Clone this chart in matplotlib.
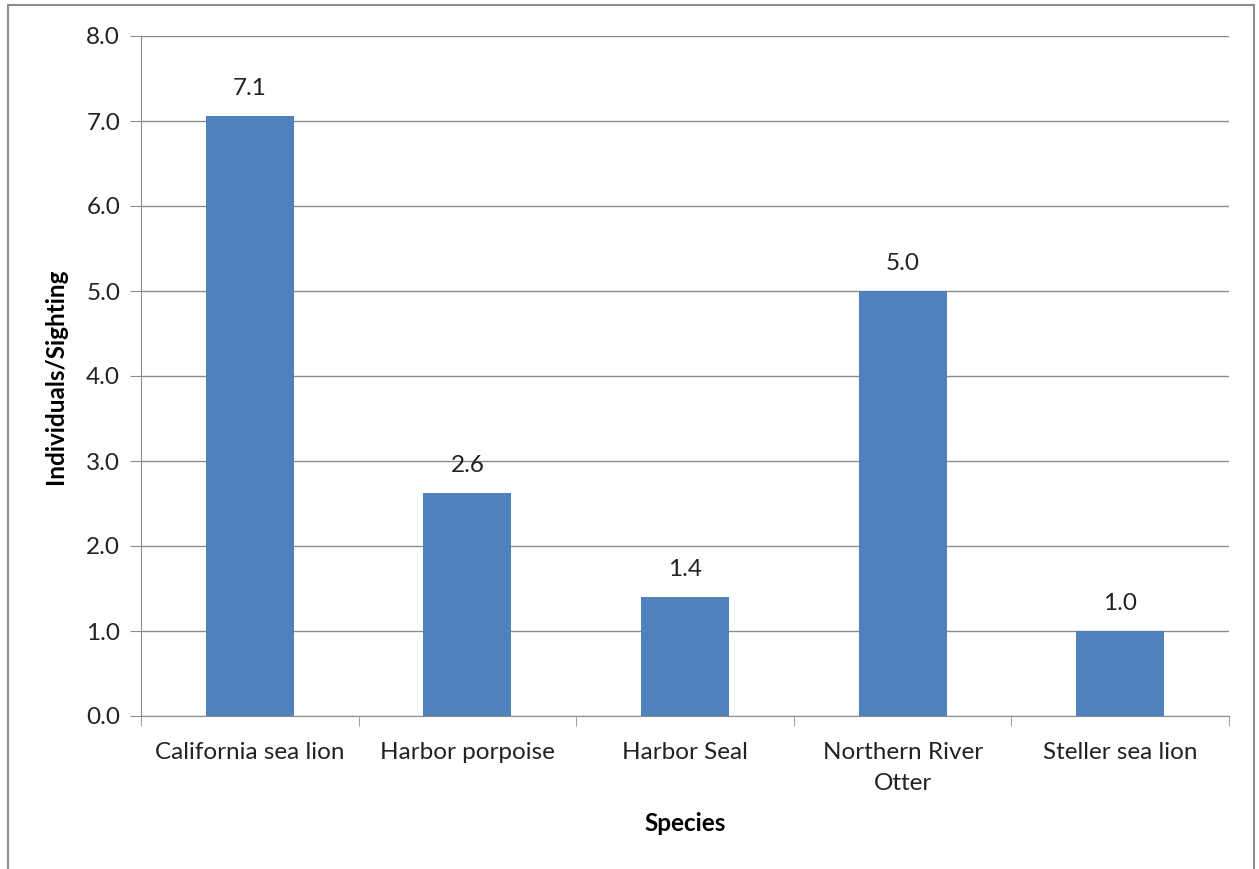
import matplotlib.pyplot as plt
from matplotlib.patches import Rectangle

species = ["California sea lion", "Harbor porpoise", "Harbor Seal",
           "Northern River\nOtter", "Steller sea lion"]
ind_per_sighting = [7.06, 2.62, 1.4, 5.0, 1.0]
yticks = [0.0, 1.0, 2.0, 3.0, 4.0, 5.0, 6.0, 7.0, 8.0]

plt.rcParams['font.family'] = ['Lato', 'DejaVu Sans']
FS = 17.5

W, H = 1259, 869
fig = plt.figure(figsize=(W / 100, H / 100), dpi=100)
ax = fig.add_axes([141 / W, 1 - 716 / H, (1229 - 141) / W, (716 - 36) / H])

# outer chart frame
fig.patches.append(Rectangle((8 / W, -0.05), (1254 - 8) / W, 1.05 - 5 / H,
                             transform=fig.transFigure, fill=False,
                             edgecolor='#8c8c8c', linewidth=1.5))

x = range(len(species))
ax.bar(x, ind_per_sighting, width=0.405, color='#4F81BD', zorder=3)
for xi, v in zip(x, ind_per_sighting):
    ax.text(xi, v + 0.2, f"{v:.1f}", ha='center', va='bottom', fontsize=FS, color='#222222')

ax.set_xlim(-0.5, len(species) - 0.5)
ax.set_ylim(0, 8)
ax.set_yticks(yticks)
ax.set_yticklabels([f"{t:.1f}" for t in yticks], fontsize=FS, color='#222222')
ax.yaxis.grid(True, color='#8c8c8c', linewidth=1, zorder=0)

ax.set_xticks(list(x))
ax.set_xticklabels(species, fontsize=FS, color='#222222', linespacing=1.55)
ax.set_xticks([i - 0.5 for i in range(len(species) + 1)], minor=True)
ax.tick_params(axis='x', which='major', length=0, pad=19)
ax.tick_params(axis='x', which='minor', length=7, color='#8c8c8c')
ax.tick_params(axis='y', length=8, color='#8c8c8c', pad=7)

for side in ['top', 'right']:
    ax.spines[side].set_visible(False)
for side in ['left', 'bottom']:
    ax.spines[side].set_color('#8c8c8c')

ax.set_xlabel("Species", fontsize=FS, fontweight='bold', labelpad=13)
ax.set_ylabel("Individuals/Sighting", fontsize=FS, fontweight='bold', labelpad=14)

fig.savefig("out.png", dpi=100)
